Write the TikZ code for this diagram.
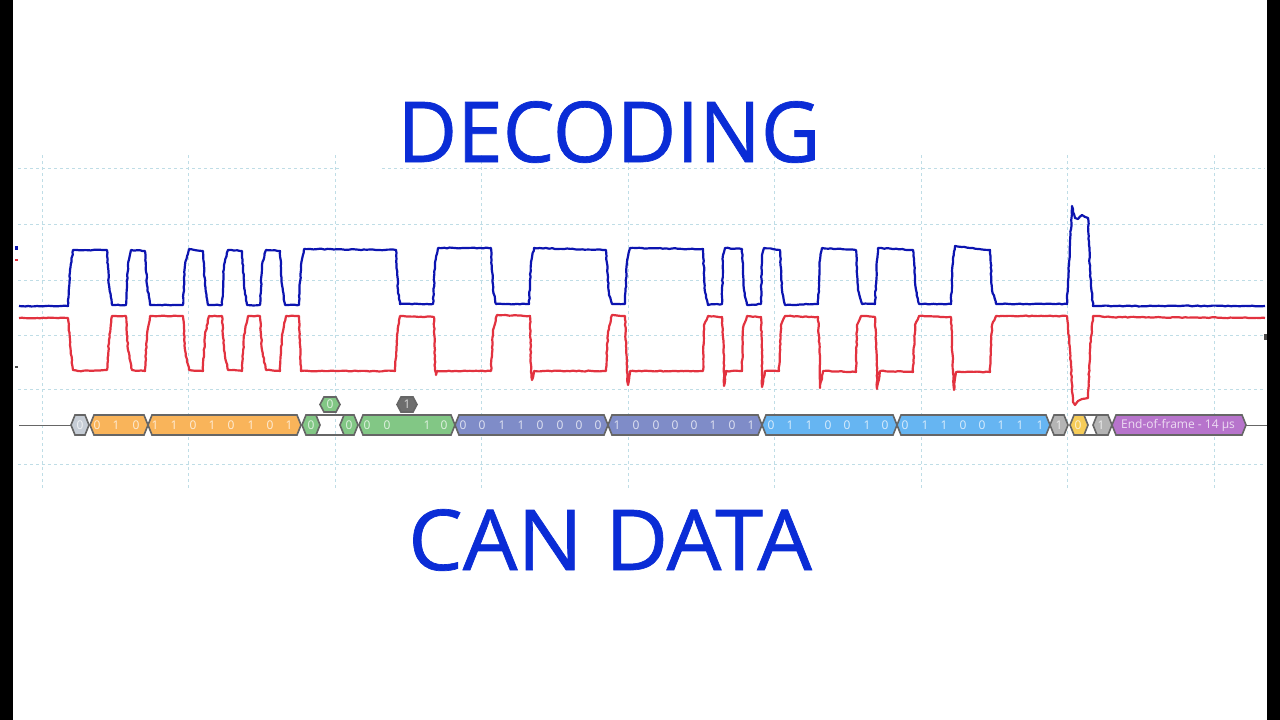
\documentclass[tikz,border=0pt]{standalone}
\usepackage{fontspec}
\setmainfont{Open Sans}
\newfontfamily\titlefont[FakeStretch=0.975,FakeBold=0.8]{Open Sans}
\newfontfamily\titlefontb[FakeStretch=1.03,FakeBold=0.8]{Open Sans}
\newfontfamily\labfont{Open Sans}
\usetikzlibrary{decorations.pathmorphing}
\definecolor{titleblue}{HTML}{0A2CD6}
\definecolor{wblue}{HTML}{0C14B0}
\definecolor{wred}{HTML}{E2323F}
\definecolor{gridc}{HTML}{BFDDE6}
\definecolor{busline}{HTML}{666666}
\definecolor{cgray}{HTML}{C6CDD6}
\definecolor{corange}{HTML}{F9B45A}
\definecolor{cgreen}{HTML}{82C785}
\definecolor{cindigo}{HTML}{7F8CC8}
\definecolor{csky}{HTML}{66B5F2}
\definecolor{cmid}{HTML}{B4B4B4}
\definecolor{cyellow}{HTML}{F6CC58}
\definecolor{cpurple}{HTML}{B774CC}
\definecolor{cdark}{HTML}{6E6E6E}
\tikzset{
  title/.style={text=titleblue,anchor=base,inner sep=0pt},
  gridline/.style={gridc,line width=0.9pt,dash pattern=on 3pt off 3pt},
  wave/.style={line width=2.2pt,line join=round,decorate,decoration={random steps,segment length=3pt,amplitude=0.45pt}},
  seg/.style={draw=busline,line width=1.6pt,line join=miter},
  bit/.style={text=white,opacity=0.75,font=\labfont\fontsize{12}{12}\selectfont,inner sep=0pt},
}
% \hexs{x1}{x2}{y1}{y2}{fill}
\newcommand{\hexs}[5]{%
  \path[seg,fill=#5] (#1,{(#3+#4)/2}) -- (#1+4,#3) -- (#2-4,#3) -- (#2,{(#3+#4)/2}) -- (#2-4,#4) -- (#1+4,#4) -- cycle;}
\begin{document}
\begin{tikzpicture}[x=1pt,y=-1pt]
\useasboundingbox (0,0) rectangle (1280,720);
\fill[white] (0,0) rectangle (1280,720);
% vertical grid
\foreach \x in {42,188,335,481,628,774,921,1067,1214}
  \draw[gridline] (\x,155) -- (\x,490);
% horizontal grid
\draw[gridline] (18,168) -- (339,168);
\draw[gridline] (382,168) -- (1265,168);
\foreach \y in {224,280,335,389,464}
  \draw[gridline] (18,\y) -- (1265,\y);
% titles
\node[title,font=\titlefont\fontsize{84}{84}\selectfont] (dec) at (609,162) {DECODING};
\node[title,font=\titlefontb\fontsize{84}{84}\selectfont] (can) at (610,570) {CAN DATA};
% side marks
\fill[wblue] (15,246) rectangle (18,250);
\fill[wred] (15,259) rectangle (18,261);
\fill[black!70] (15,366) rectangle (18,368);
\fill[black!70] (1264,334) rectangle (1267,340);
% red trace
\draw[wave,wred] (19,318) -- (68,318) -- (70,345) -- (73,370) -- (78,371) -- (107,370) -- (109,340) -- (112,316) -- (126,316) -- (128,350) -- (132,370) -- (145,371) -- (147,335) -- (150,316) -- (183,316) -- (185,350) -- (189,370) -- (203,371) -- (205,335) -- (209,316) -- (222,316) -- (224,350) -- (228,370) -- (242,371) -- (244,335) -- (248,316) -- (260,316) -- (262,350) -- (266,370) -- (280,371) -- (282,335) -- (286,316) -- (299,316) -- (301,371) -- (395,371) -- (397,335) -- (400,316) -- (434,317) -- (435,370) -- (436,375) -- (437,371) -- (491,371) -- (493,330) -- (497,315) -- (530,316) -- (531,372) -- (532,380) -- (534,371) -- (606,371) -- (608,332) -- (612,315) -- (625,316) -- (627,372) -- (628,385) -- (630,371) -- (703,371) -- (704,325) -- (708,316) -- (722,317) -- (724,360) -- (724,386) -- (726,371) -- (742,371) -- (743,328) -- (747,316) -- (761,317) -- (762,360) -- (762,387) -- (765,371) -- (779,371) -- (781,325) -- (785,316) -- (818,317) -- (820,360) -- (820,388) -- (823,371) -- (856,372) -- (857,325) -- (861,316) -- (875,317) -- (877,370) -- (877,389) -- (880,371) -- (913,372) -- (915,325) -- (919,316) -- (951,317) -- (953,370) -- (954,390) -- (956,372) -- (990,372) -- (992,325) -- (996,316) -- (1067,316) -- (1070,350) -- (1073,402) -- (1075,405) -- (1078,401) -- (1082,399) -- (1088,398) -- (1090,350) -- (1093,316) -- (1110,317) -- (1265,318);
% blue trace
\draw[wave,wblue] (19,306) -- (68,306) -- (70,270) -- (73,250) -- (107,250) -- (109,285) -- (112,305) -- (126,305) -- (128,265) -- (131,250) -- (145,251) -- (147,285) -- (150,305) -- (183,305) -- (185,265) -- (189,249) -- (203,251) -- (205,285) -- (208,305) -- (222,305) -- (224,265) -- (228,250) -- (242,251) -- (244,285) -- (247,305) -- (260,305) -- (262,265) -- (266,250) -- (280,251) -- (282,285) -- (285,305) -- (299,305) -- (301,265) -- (304,249) -- (396,250) -- (398,290) -- (400,304) -- (433,304) -- (435,265) -- (438,248) -- (491,248) -- (493,290) -- (496,304) -- (529,304) -- (531,262) -- (534,248) -- (606,250) -- (609,295) -- (612,304) -- (625,304) -- (627,262) -- (630,248) -- (703,249) -- (705,292) -- (708,305) -- (722,304) -- (723,255) -- (725,248) -- (742,249) -- (744,290) -- (747,305) -- (761,304) -- (762,255) -- (764,248) -- (780,250) -- (782,290) -- (785,305) -- (818,304) -- (820,260) -- (822,248) -- (856,250) -- (858,290) -- (862,304) -- (875,304) -- (877,260) -- (878,248) -- (913,250) -- (916,290) -- (919,304) -- (951,304) -- (953,258) -- (955,246) -- (990,250) -- (992,290) -- (996,304) -- (1067,304) -- (1069,265) -- (1072,206) -- (1075,218) -- (1078,219) -- (1082,215) -- (1088,218) -- (1090,270) -- (1093,306) -- (1265,306);
% bus wire and rails
\draw[busline,line width=1pt] (19,425) -- (71,425);
\draw[busline,line width=1pt] (1246,425) -- (1267,425);
\draw[busline,line width=1.6pt] (316,415) -- (344,415) (316,435) -- (344,435);
\draw[busline,line width=1.6pt] (1084,415) -- (1097,415) (1084,435) -- (1097,435);
% bus segments
\hexs{71}{89}{415}{435}{cgray}
\hexs{90}{148}{415}{435}{corange}
\hexs{148}{301}{415}{435}{corange}
\hexs{302}{320}{415}{435}{cgreen}
\hexs{340}{358}{415}{435}{cgreen}
\hexs{359}{455}{415}{435}{cgreen}
\hexs{455}{608}{415}{435}{cindigo}
\hexs{608}{762}{415}{435}{cindigo}
\hexs{762}{897}{415}{435}{csky}
\hexs{897}{1050}{415}{435}{csky}
\hexs{1050}{1068}{415}{435}{cmid}
\hexs{1070}{1088}{415}{435}{cyellow}
\hexs{1093}{1112}{415}{435}{cmid}
\hexs{1112}{1246}{415}{435}{cpurple}
% upper markers
\hexs{320}{340}{397}{412}{cgreen}
\hexs{397}{417}{397}{412}{cdark}
% bit labels
\foreach \x/\d in {80/0,97/0,116/1,136/0,155/1,174/1,193/0,212/1,231/0,251/1,270/0,289/1,311/0,349/0,367/0,387/0,427/1,444/0,463/0,482/0,502/1,521/1,540/0,560/0,579/0,598/0,617/1,636/0,656/0,675/0,694/0,713/1,732/0,751/1,771/0,790/1,809/1,828/0,847/0,867/1,885/0,905/0,925/1,944/1,963/0,982/0,1001/1,1020/1,1040/1,1059/1,1078/0,1101/1,330/0,407/1}
  \node[bit] (b\x) at (\x,{\x==330||\x==407 ? 404.5 : 425}) {\d};
\node[bit] (eof) at (1178,425) {End-of-frame - 14 µs};
% black side bars
\fill[black] (0,0) rectangle (13,720);
\fill[black] (1267,0) rectangle (1280,720);
\end{tikzpicture}
\end{document}
